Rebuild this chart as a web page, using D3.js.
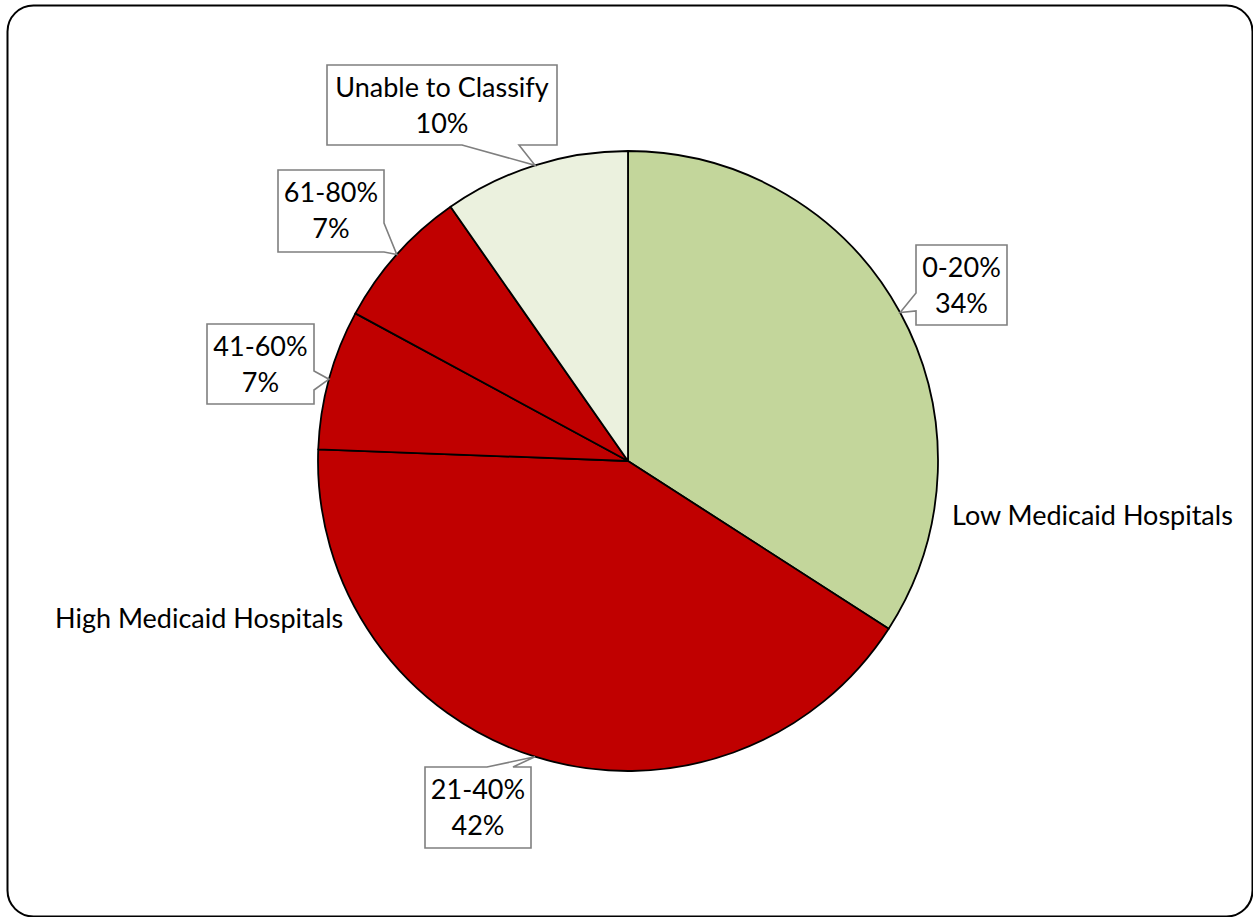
<!DOCTYPE html>
<html>
<head>
<meta charset="utf-8">
<script src="https://cdn.jsdelivr.net/npm/d3@7/dist/d3.min.js"></script>
<style>
  html, body { margin: 0; padding: 0; background: #ffffff; }
  svg { display: block; }
  text { font-family: Lato, "Open Sans", sans-serif; fill: #000; }
</style>
</head>
<body>
<svg id="chart" width="1253" height="917"></svg>
<script>
// Share of hospitals by Medicaid payer-mix band
const categories = ["0-20%", "21-40%", "41-60%", "61-80%", "Unable to Classify"];
const shares = [34.1, 41.5, 7.3, 7.4, 9.7];
const sliceColors = ["#c3d69b", "#c00000", "#c00000", "#c00000", "#ebf1de"];
const groupLabels = ["Low Medicaid Hospitals", "High Medicaid Hospitals"];

// Callout box placement: box rect, the side the pointer leaves from, and the pointer base span
const callouts = [
  { box: [916, 245, 91, 80],  side: "left",   base: [293, 311] },
  { box: [425, 767, 106, 81], side: "top",    base: [487, 513] },
  { box: [207, 324, 107, 80], side: "right",  base: [371, 390] },
  { box: [278, 170, 106, 82], side: "right",  base: [223, 252] },
  { box: [327, 65, 230, 80],  side: "bottom", base: [462, 519] }
];

const svg = d3.select("#chart");
const cx = 628, cy = 461, R = 310;
const fontSize = 27;

// Outer chart frame
svg.append("rect")
  .attr("x", 7.5).attr("y", 5.5)
  .attr("width", 1245).attr("height", 911)
  .attr("rx", 26).attr("ry", 26)
  .attr("fill", "#fff").attr("stroke", "#000").attr("stroke-width", 2);

const pie = d3.pie().sort(null).value(d => d)(shares);
const arc = d3.arc().innerRadius(0).outerRadius(R);

const g = svg.append("g").attr("transform", `translate(${cx},${cy})`);
g.selectAll("path.slice")
  .data(pie)
  .join("path")
  .attr("class", "slice")
  .attr("d", arc)
  .attr("fill", (d, i) => sliceColors[i])
  .attr("stroke", "#000")
  .attr("stroke-width", 1.8)
  .attr("stroke-linejoin", "round");

// Callout labels with pointers to the middle of each slice's rim
const fmt = v => Math.round(v) + "%";
pie.forEach((d, i) => {
  const c = callouts[i];
  const [x, y, w, h] = c.box;
  const mid = (d.startAngle + d.endAngle) / 2;
  const tx = cx + R * Math.sin(mid);
  const ty = cy - R * Math.cos(mid);
  let pts;
  const [b0, b1] = c.base;
  if (c.side === "bottom") {
    pts = [[x, y], [x + w, y], [x + w, y + h], [b1, y + h], [tx, ty], [b0, y + h], [x, y + h]];
  } else if (c.side === "top") {
    pts = [[x, y], [b0, y], [tx, ty], [b1, y], [x + w, y], [x + w, y + h], [x, y + h]];
  } else if (c.side === "left") {
    pts = [[x, y], [x + w, y], [x + w, y + h], [x, y + h], [x, b1], [tx, ty], [x, b0]];
  } else {
    pts = [[x, y], [x + w, y], [x + w, b0], [tx, ty], [x + w, b1], [x + w, y + h], [x, y + h]];
  }
  svg.append("path")
    .attr("d", d3.line()(pts) + "Z")
    .attr("fill", "#fff")
    .attr("stroke", "#7f7f7f")
    .attr("stroke-width", 1.6);
  const t = svg.append("text")
    .attr("text-anchor", "middle")
    .attr("font-size", fontSize);
  t.append("tspan").attr("x", x + w / 2).attr("y", y + 32).text(categories[i]);
  t.append("tspan").attr("x", x + w / 2).attr("y", y + 68).text(fmt(shares[i]));
});

// Group annotations
svg.append("text").attr("x", 952).attr("y", 525).attr("font-size", fontSize).text(groupLabels[0]);
svg.append("text").attr("x", 55).attr("y", 628).attr("font-size", fontSize).text(groupLabels[1]);
</script>
</body>
</html>
